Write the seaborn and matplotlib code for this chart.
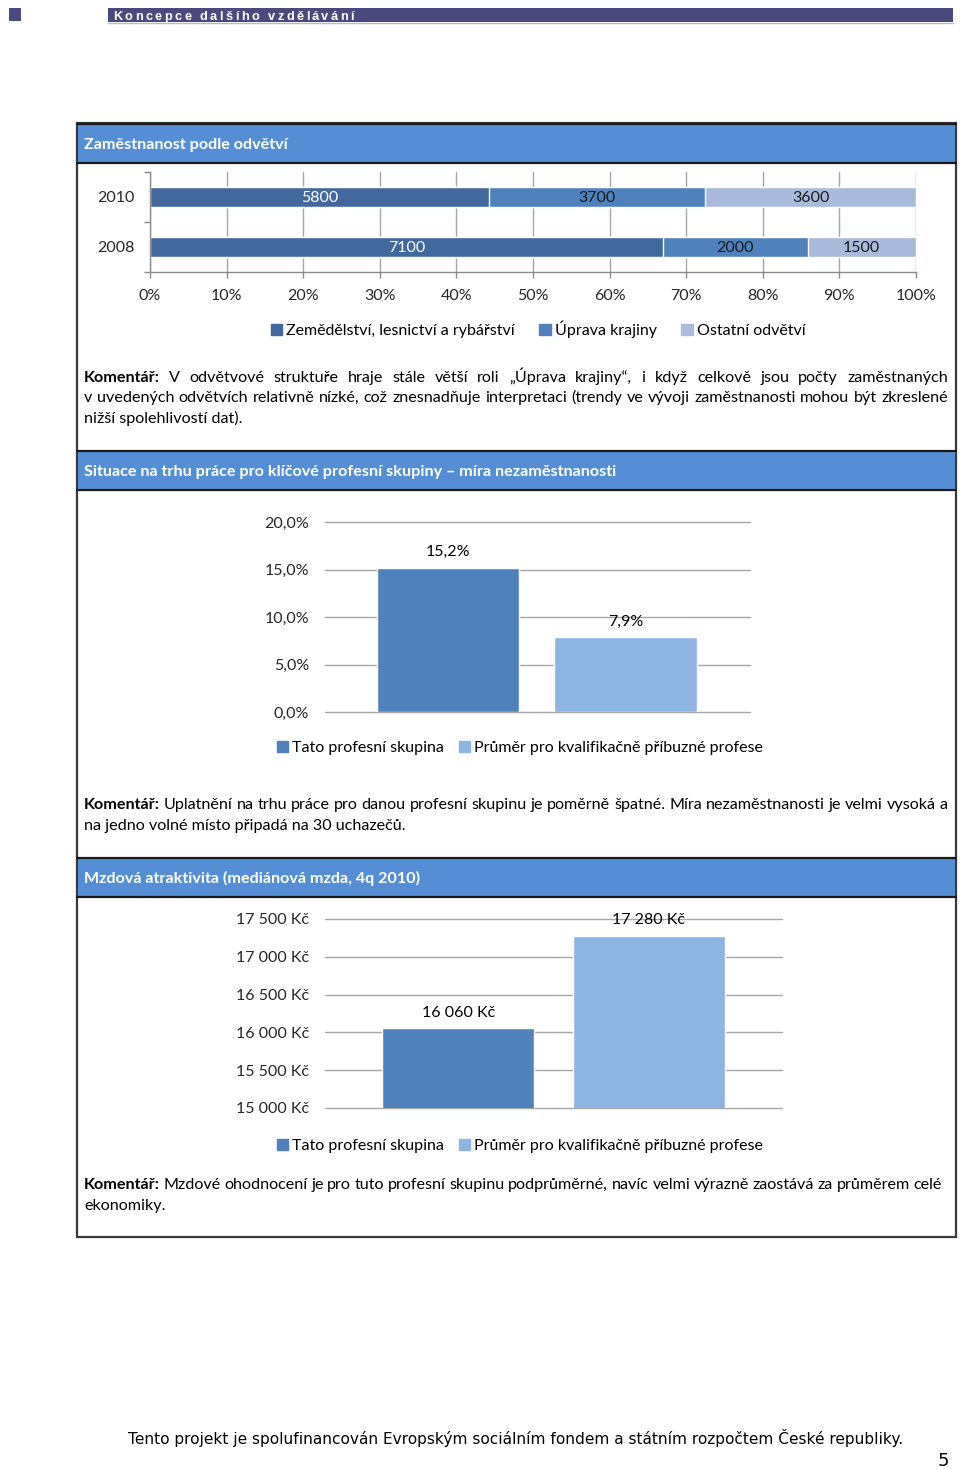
import matplotlib
matplotlib.use('Agg')
import matplotlib.pyplot as plt
from matplotlib.patches import Rectangle, Patch
from matplotlib.ticker import FuncFormatter, FixedLocator
import seaborn as sns
import pandas as pd

# ---------------------------------------------------------
# Data
# ---------------------------------------------------------
years = ['2010', '2008']
sectors = ['Zemědělství, lesnictví a rybářství', 'Úprava krajiny', 'Ostatní odvětví']
employees_2010 = [5800, 3700, 3600]
employees_2008 = [7100, 2000, 1500]
pct_ticks = [0, 10, 20, 30, 40, 50, 60, 70, 80, 90, 100]

groups = ['Tato profesní skupina', 'Průměr pro kvalifikačně příbuzné profese']
unemployment = [15.2, 7.9]
unemployment_ticks = [0, 5, 10, 15, 20]
wages = [16060, 17280]
wage_ticks = [15000, 15500, 16000, 16500, 17000, 17500]

header_text = 'Koncepce dalšího vzdělávání'
section_titles = ['Zaměstnanost podle odvětví',
                  'Situace na trhu práce pro klíčové profesní skupiny – míra nezaměstnanosti',
                  'Mzdová atraktivita (mediánová mzda, 4q 2010)']
comment_1 = ['V odvětvové struktuře hraje stále větší roli „Úprava krajiny“, i když celkově jsou počty zaměstnaných',
             'v uvedených odvětvích relativně nízké, což znesnadňuje interpretaci (trendy ve vývoji zaměstnanosti mohou být zkreslené',
             'nižší spolehlivostí dat).']
comment_2 = ['Uplatnění na trhu práce pro danou profesní skupinu je poměrně špatné. Míra nezaměstnanosti je velmi vysoká a',
             'na jedno volné místo připadá na 30 uchazečů.']
comment_3 = ['Mzdové ohodnocení je pro tuto profesní skupinu podprůměrné, navíc velmi výrazně zaostává za průměrem celé',
             'ekonomiky.']
footer_text = 'Tento projekt je spolufinancován Evropským sociálním fondem a státním rozpočtem České republiky.'

sector_colors = ['#42699e', '#4f81bd', '#a9bbdb']
group_colors = ['#4f81bd', '#8eb4e3']
band_color = '#558ed5'
header_color = '#4b4a7f'
grid_color = '#a6a6a6'

W, H = 960, 1469

sns.set_theme(style='white')
plt.rcParams['font.family'] = ['Lato', 'DejaVu Sans']
plt.rcParams['text.color'] = '#000000'

fig = plt.figure(figsize=(W / 100, H / 100), dpi=100)
renderer = fig.canvas.get_renderer()


def box(x0, y0, x1, y1):
    # pixel box (top-left origin) -> figure fraction rect
    return [x0 / W, 1 - y1 / H, (x1 - x0) / W, (y1 - y0) / H]


# page-level axes in pixel coordinates
bg = fig.add_axes([0, 0, 1, 1])
bg.set_xlim(0, W)
bg.set_ylim(H, 0)
bg.axis('off')


def word_width(s, size, weight='normal', family=None):
    t = bg.text(0, 0, s, fontsize=size, fontweight=weight, family=family)
    w = t.get_window_extent(renderer).width
    t.remove()
    return w


def justify(line, x0, x1, y, size, lead=None):
    words = line.split(' ')
    weights = ['normal'] * len(words)
    if lead:
        words = [lead] + words
        weights = ['bold'] + weights
    widths = [word_width(w, size, wt) for w, wt in zip(words, weights)]
    gap = (x1 - x0 - sum(widths)) / (len(words) - 1)
    x = x0
    for w, wt, wd in zip(words, weights, widths):
        bg.text(x, y, w, fontsize=size, fontweight=wt, ha='left', va='baseline')
        x += wd + gap


def plain(line, x0, y, size):
    bg.text(x0, y, line, fontsize=size, ha='left', va='baseline')


# ---------------------------------------------------------
# Page header
# ---------------------------------------------------------
bg.add_patch(Rectangle((9, 8), 12, 13, color=header_color, lw=0))
bg.add_patch(Rectangle((108, 8), 845, 14, color=header_color, lw=0))
bg.plot([108, 953], [22.5, 22.5], color='#b8b8c8', lw=1)
hx = 113.0
for ch in header_text:
    if ch == ' ':
        hx += 6
        continue
    bg.text(hx, 19.5, ch, fontsize=9.2, fontweight='bold', color='white',
            family='Liberation Sans', ha='left', va='baseline')
    hx += word_width(ch, 9.2, 'bold', 'Liberation Sans') + 2.45

# ---------------------------------------------------------
# Frame and section bands
# ---------------------------------------------------------
bg.add_patch(Rectangle((77, 123), 879, 1114, fill=False, ec='#3a3a3a', lw=1.6))
for top, title in zip([124, 451, 858], section_titles):
    bg.add_patch(Rectangle((78, top), 877, 39, color=band_color, lw=0))
    bg.plot([77, 956], [top, top], color='#1a1a1a', lw=1.6)
    bg.plot([77, 956], [top + 39, top + 39], color='#1a1a1a', lw=1.6)
    bg.text(84, top + 25, title, fontsize=11.6, fontweight='bold', color='white',
            ha='left', va='baseline')

# ---------------------------------------------------------
# Chart 1: employment by sector (100 % stacked bars)
# ---------------------------------------------------------
emp = pd.DataFrame({'year': [years[0]] * 3 + [years[1]] * 3,
                    'sector': sectors * 2,
                    'count': employees_2010 + employees_2008})
emp['share'] = emp['count'] / emp.groupby('year')['count'].transform('sum') * 100
emp['cum'] = emp.groupby('year')['share'].cumsum()

ax1 = fig.add_axes(box(150, 172, 916, 272))
for sector, color in reversed(list(zip(sectors, sector_colors))):
    sns.barplot(data=emp[emp['sector'] == sector], x='cum', y='year', order=years,
                orient='h', color=color, width=0.4, saturation=1, ax=ax1)
for _, row in emp.iterrows():
    txt_color = 'white' if row['sector'] == sectors[0] else '#1a1a1a'
    ax1.text(row['cum'] - row['share'] / 2, years.index(row['year']) + 0.02, str(row['count']),
             ha='center', va='center', fontsize=11.5, color=txt_color)
ax1.set_xlim(0, 100)
ax1.set_ylim(1.5, -0.5)
ax1.xaxis.set_major_locator(FixedLocator(pct_ticks))
ax1.xaxis.set_major_formatter(FuncFormatter(lambda v, p: f'{v:.0f}%'))
ax1.set_yticks([0, 1])
ax1.set_yticklabels(years)
ax1.set_yticks([-0.5, 0.5, 1.5], minor=True)
ax1.tick_params(axis='x', length=4, width=1, color='#8c8c8c', direction='out', pad=8,
                labelsize=11.5, bottom=True)
ax1.tick_params(axis='y', which='major', length=0, pad=11, labelsize=11.5)
ax1.tick_params(axis='y', which='minor', length=4, width=1, color='#8c8c8c', direction='out', left=True)
ax1.grid(axis='x', color=grid_color, lw=1)
ax1.grid(axis='y', visible=False)
ax1.set_axisbelow(True)
ax1.set_xlabel('')
ax1.set_ylabel('')
for side in ['top', 'right']:
    ax1.spines[side].set_visible(False)
for side in ['left', 'bottom']:
    ax1.spines[side].set_color('#8c8c8c')
    ax1.spines[side].set_linewidth(1)
ax1.patch.set_alpha(0)

fig.legend(handles=[Patch(color=c) for c in sector_colors], labels=sectors,
           loc='center', bbox_to_anchor=(538 / W, 1 - 329 / H), ncol=3, frameon=False,
           handlelength=0.7, handleheight=0.7, handletextpad=0.25, columnspacing=1.55,
           fontsize=11.5)

# ---------------------------------------------------------
# Chart 2: unemployment rate
# ---------------------------------------------------------
unemp = pd.DataFrame({'group': groups, 'rate': unemployment})
ax2 = fig.add_axes(box(325, 522, 750, 712))
sns.barplot(data=unemp, x='group', y='rate', hue='group', palette=group_colors,
            width=0.8, saturation=1, legend=False, ax=ax2)
for cont, v in zip(ax2.containers, unemployment):
    ax2.bar_label(cont, labels=[f'{v:.1f}%'.replace('.', ',')], padding=6, fontsize=11.5)
ax2.set_ylim(0, 20)
ax2.set_xlim(-0.69, 1.70)
ax2.yaxis.set_major_locator(FixedLocator(unemployment_ticks))
ax2.yaxis.set_major_formatter(FuncFormatter(lambda v, p: f'{v:.1f}%'.replace('.', ',')))
ax2.set_xticks([])

# ---------------------------------------------------------
# Chart 3: median wage
# ---------------------------------------------------------
wage = pd.DataFrame({'group': groups, 'wage': wages})
ax3 = fig.add_axes(box(325, 919, 782, 1108))
sns.barplot(data=wage, x='group', y='wage', hue='group', palette=group_colors,
            width=0.8, saturation=1, legend=False, ax=ax3)
for cont, v in zip(ax3.containers, wages):
    ax3.bar_label(cont, labels=[f'{v:,.0f} Kč'.replace(',', ' ')], padding=6, fontsize=11.5)
ax3.set_ylim(15000, 17500)
ax3.set_xlim(-0.70, 1.70)
ax3.yaxis.set_major_locator(FixedLocator(wage_ticks))
ax3.yaxis.set_major_formatter(FuncFormatter(lambda v, p: f'{v:,.0f} Kč'.replace(',', ' ')))
ax3.set_xticks([])

for ax in [ax2, ax3]:
    ax.grid(axis='y', color=grid_color, lw=1)
    for gl in ax.get_ygridlines():
        gl.set_clip_on(False)
    ax.set_axisbelow(True)
    ax.tick_params(axis='y', length=0, pad=11.5, labelsize=11.5)
    ax.set_xlabel('')
    ax.set_ylabel('')
    sns.despine(ax=ax, left=True, bottom=True)
    ax.patch.set_alpha(0)

for center_y, anchor_x in [(748, 520), (1146, 520)]:
    fig.legend(handles=[Patch(color=c) for c in group_colors], labels=groups,
               loc='center', bbox_to_anchor=(anchor_x / W, 1 - center_y / H), ncol=2,
               frameon=False, handlelength=0.7, handleheight=0.7, handletextpad=0.25,
               columnspacing=0.9, fontsize=11.5)

# ---------------------------------------------------------
# Comments
# ---------------------------------------------------------
size = 11.6
justify(comment_1[0], 84, 948, 382, size, lead='Komentář:')
justify(comment_1[1], 84, 948, 402, size)
plain(comment_1[2], 84, 423, size)
justify(comment_2[0], 84, 948, 809, size, lead='Komentář:')
plain(comment_2[1], 84, 830, size)
justify(comment_3[0], 84, 942, 1189, size, lead='Komentář:')
plain(comment_3[1], 84, 1210, size)

# ---------------------------------------------------------
# Footer
# ---------------------------------------------------------
bg.text(516, 1444, footer_text, fontsize=11.1, family='DejaVu Sans', ha='center', va='baseline')
bg.text(943, 1466, '5', fontsize=13, family='DejaVu Sans', ha='center', va='baseline')

fig.savefig('out.png', dpi=100)
